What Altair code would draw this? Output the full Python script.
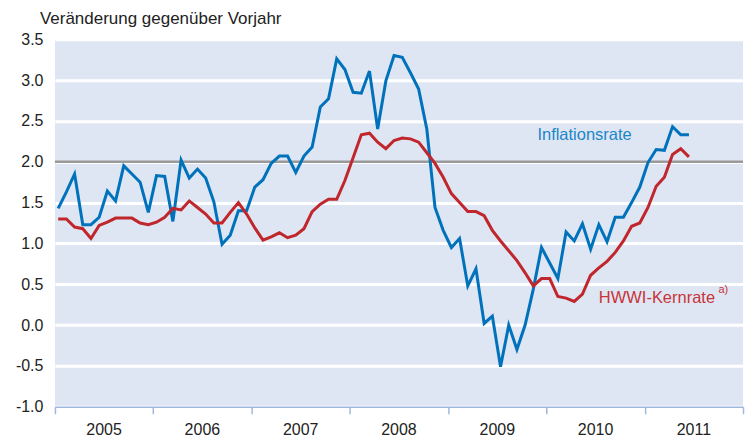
import altair as alt
import pandas as pd

# monthly values, Jan 2005 .. Jun 2011
inflation = [1.43, 1.63, 1.85, 1.23, 1.23, 1.32, 1.64, 1.52, 1.95, 1.85, 1.75, 1.38,
             1.83, 1.82, 1.27, 2.02, 1.80, 1.91, 1.80, 1.51, 0.99, 1.10, 1.40, 1.40,
             1.69, 1.78, 1.98, 2.07, 2.07, 1.87, 2.07, 2.18, 2.67, 2.77, 3.26, 3.13,
             2.85, 2.84, 3.11, 2.40, 2.99, 3.30, 3.28, 3.09, 2.89, 2.40, 1.44, 1.16,
             0.95, 1.06, 0.48, 0.69, 0.02, 0.11, -0.51, 0.00, -0.30, 0.00, 0.44, 0.95,
             0.76, 0.57, 1.14, 1.03, 1.24, 0.93, 1.23, 1.02, 1.32, 1.32, 1.50, 1.69,
             1.99, 2.15, 2.14, 2.43, 2.33, 2.33]
kernrate = [1.30, 1.30, 1.20, 1.18, 1.06, 1.22, 1.26, 1.31, 1.31, 1.31, 1.25, 1.23,
            1.26, 1.32, 1.43, 1.41, 1.52, 1.44, 1.36, 1.25, 1.25, 1.38, 1.50, 1.36,
            1.19, 1.04, 1.08, 1.13, 1.07, 1.10, 1.18, 1.39, 1.48, 1.54, 1.54, 1.77,
            2.05, 2.33, 2.35, 2.24, 2.16, 2.26, 2.29, 2.28, 2.24, 2.11, 1.98, 1.81,
            1.61, 1.50, 1.39, 1.39, 1.34, 1.16, 1.03, 0.91, 0.79, 0.64, 0.48, 0.57,
            0.57, 0.35, 0.33, 0.29, 0.38, 0.61, 0.70, 0.78, 0.89, 1.03, 1.21, 1.25,
            1.44, 1.70, 1.81, 2.09, 2.16, 2.06]
years = ["2005", "2006", "2007", "2008", "2009", "2010", "2011"]
y_ticks = [-1.0, -0.5, 0.0, 0.5, 1.0, 1.5, 2.0, 2.5, 3.0, 3.5]
series_names = ["HWWI-Kernrate", "Inflationsrate"]
series_colors = ["#C0272D", "#0072BC"]

FONT = "Liberation Sans"
W, H = 689, 368

rows = []
for i, v in enumerate(inflation):
    rows.append({"m": i + 0.4, "v": v, "series": "Inflationsrate"})
for i, v in enumerate(kernrate):
    rows.append({"m": i + 0.4, "v": v, "series": "HWWI-Kernrate"})
df = pd.DataFrame(rows)

xscale = alt.Scale(domain=[0, 84], nice=False, zero=False)
yscale = alt.Scale(domain=[-1, 3.5], nice=False, zero=False)

lines = alt.Chart(df).mark_line(strokeWidth=3).encode(
    x=alt.X("m:Q", scale=xscale,
            axis=alt.Axis(values=[0, 12, 24, 36, 48, 60, 72, 84], labels=False, title=None,
                          grid=False, domainColor="#9FB8DD", tickColor="#9FB8DD",
                          tickSize=7, domainWidth=1.5, tickWidth=1.5)),
    y=alt.Y("v:Q", scale=yscale,
            axis=alt.Axis(values=y_ticks, title=None, grid=True, gridColor="white",
                          gridWidth=3, domain=False, ticks=False, labelFontSize=16,
                          labelFont=FONT, labelColor="#222222", labelPadding=12,
                          labelExpr="replace(format(datum.value, '.1f'), '\u2212', '-')")),
    color=alt.Color("series:N", scale=alt.Scale(domain=series_names, range=series_colors),
                    legend=None),
)

ref = alt.Chart(pd.DataFrame({"y": [2.0]})).mark_rule(color="#9A9A9A", strokeWidth=2.5).encode(
    y=alt.Y("y:Q", scale=yscale)
)

year_df = pd.DataFrame({"m": [6 + 12 * k for k in range(len(years))], "label": years})
year_text = alt.Chart(year_df).mark_text(fontSize=16, font=FONT, color="#222222",
                                         baseline="middle").encode(
    x=alt.X("m:Q", scale=xscale), y=alt.value(H + 23), text="label:N"
)

lab_df = pd.DataFrame({
    "m": [58.9, 66.4],
    "v": [2.33, 0.33],
    "label": ["Inflationsrate", "HWWI-Kernrate"],
    "series": ["Inflationsrate", "HWWI-Kernrate"],
})
labels = alt.Chart(lab_df).mark_text(fontSize=16.5, font=FONT, align="left",
                                     baseline="middle").encode(
    x=alt.X("m:Q", scale=xscale), y=alt.Y("v:Q", scale=yscale), text="label:N",
    color=alt.Color("series:N", scale=alt.Scale(domain=series_names, range=["#C8343A", "#1B87C9"]),
                    legend=None),
)
sup_df = pd.DataFrame({"m": [81.0], "v": [0.43], "label": ["a)"]})
sup = alt.Chart(sup_df).mark_text(fontSize=11, font=FONT, align="left", baseline="middle",
                                  color="#C8343A").encode(
    x=alt.X("m:Q", scale=xscale), y=alt.Y("v:Q", scale=yscale), text="label:N"
)

chart = alt.layer(ref, lines, labels, sup, year_text).resolve_scale(color="independent").properties(
    width=W, height=H,
    padding={"left": 7, "top": 2, "right": 0, "bottom": 0},
    title=alt.TitleParams("Veränderung gegenüber Vorjahr", anchor="start", frame="group",
                          fontSize=17, fontWeight="normal", font=FONT, color="#222222",
                          dx=-15, offset=3),
).configure_view(stroke=None, fill="#DFE6F3")

chart.save("out.html", embed_options={"renderer": "svg", "actions": False})
